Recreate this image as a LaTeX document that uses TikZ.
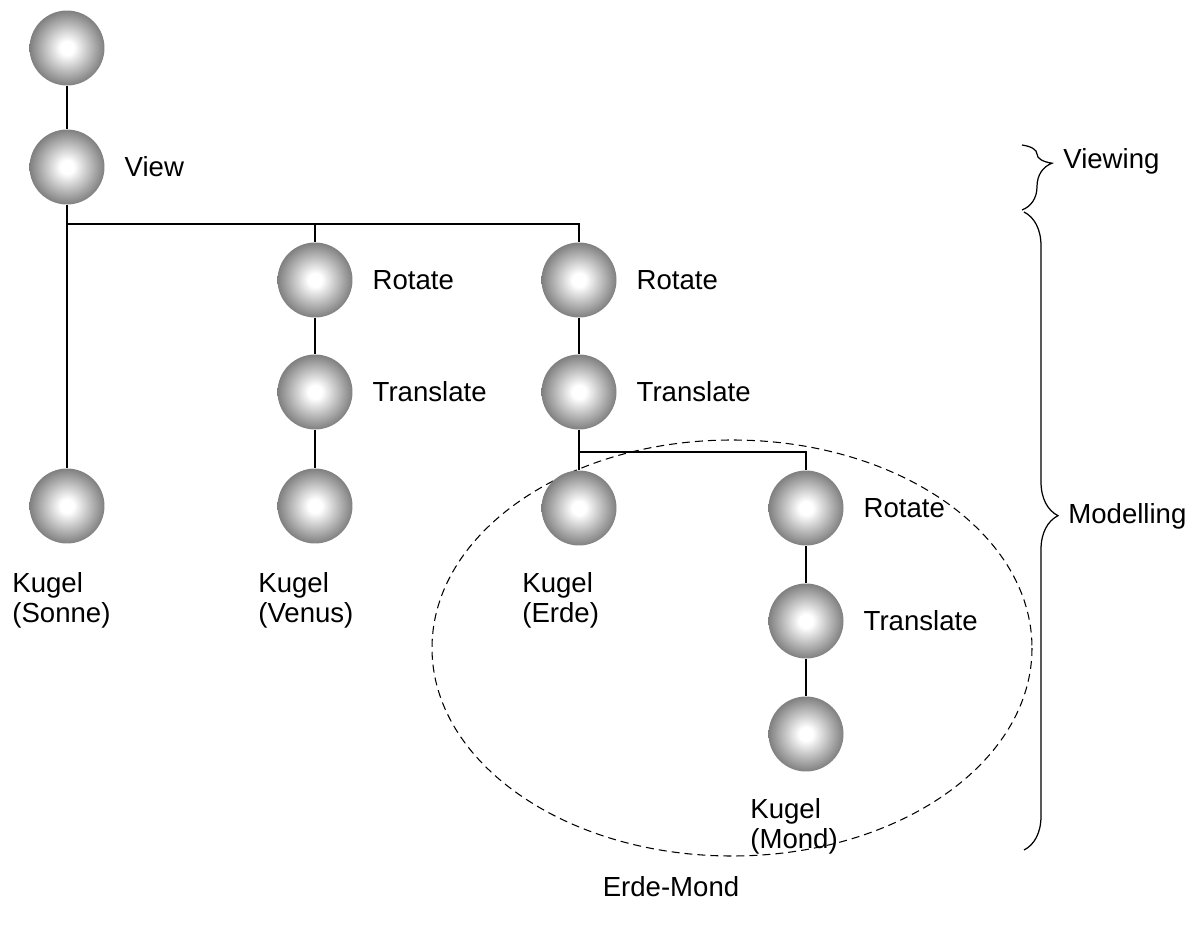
\documentclass[tikz,border=0pt]{standalone}
\usepackage{fontspec}
\setmainfont{Liberation Sans}
\usepackage{tikz}
\usetikzlibrary{positioning, calc, decorations.pathreplacing}
\pgfdeclareradialshading{sphereshade}{\pgfpoint{0bp}{0bp}}{color(0bp)=(white); color(4.5bp)=(white); color(25bp)=(black!50); color(50bp)=(black!50)}

\begin{document}
\begin{tikzpicture}[
    x=0.02cm, y=-0.02cm,
    sphere/.style={circle, minimum size=1.5cm, inner sep=0pt, shading=sphereshade},
    lbl/.style={inner sep=0pt, font=\fontsize{15.7}{17.5}\selectfont},
    kugel/.style={lbl, align=left, anchor=north west},
    edge/.style={line width=0.7pt},
    brc/.style={decorate, line width=0.7pt}
]
\useasboundingbox (0,0) rectangle (1203,925);

% Group
\draw[dashed, line width=0.6pt, dash pattern=on 0.16cm off 0.1cm] (732,648) ellipse [x radius=300, y radius=208];
\node[lbl] (grp) at (671,887) {Erde-Mond};

% Spheres
\node[sphere] (root) at (67,48) {};
\node[sphere] (view) at (67,167) {};
\node[sphere] (sonne) at (67,506) {};
\node[sphere] (rotv) at (315,280) {};
\node[sphere] (trav) at (315,392) {};
\node[sphere] (venus) at (315,506) {};
\node[sphere] (rote) at (579,280) {};
\node[sphere] (trae) at (579,392) {};
\node[sphere] (erde) at (579,508) {};
\node[sphere] (rotm) at (806,508) {};
\node[sphere] (tram) at (806,621) {};
\node[sphere] (mond) at (806,734) {};

% Labels
\node[lbl, right=0.39cm of view] (lview) {View};
\node[lbl, right=0.39cm of rotv] (lrotv) {Rotate};
\node[lbl, right=0.39cm of trav] (ltrav) {Translate};
\node[lbl, right=0.39cm of rote] (lrote) {Rotate};
\node[lbl, right=0.39cm of trae] (ltrae) {Translate};
\node[lbl, right=0.39cm of rotm] (lrotm) {Rotate};
\node[lbl, right=0.39cm of tram] (ltram) {Translate};
\node[kugel] (lsonne) at ($(sonne.south)+(-55,28)$) {Kugel\\(Sonne)};
\node[kugel] (lvenus) at ($(venus.south)+(-57,28)$) {Kugel\\(Venus)};
\node[kugel] (lerde) at ($(erde.south)+(-57,26)$) {Kugel\\(Erde)};
\node[kugel] (lmond) at ($(mond.south)+(-56,26)$) {Kugel\\(Mond)};

% Connections
\coordinate (jv) at (67,224);
\coordinate (je) at (579,452);
\draw[edge] (root) -- (view);
\draw[edge] (view) -- (sonne);
\draw[edge] (jv) -- (jv -| rote) -- (rote);
\draw[edge] (jv -| rotv) -- (rotv);
\draw[edge] (rotv) -- (trav);
\draw[edge] (trav) -- (venus);
\draw[edge] (rote) -- (trae);
\draw[edge] (trae) -- (erde);
\draw[edge] (je) -| (rotm);
\draw[edge] (rotm) -- (tram);
\draw[edge] (tram) -- (mond);

% Braces
\coordinate (vtop) at (1022,145);
\coordinate (vbot) at (1022,210);
\coordinate (mtop) at (1024,212);
\coordinate (mbot) at (1024,850);
\draw[brc, decoration={brace, amplitude=0.6cm, aspect=0.28}] (vtop) -- (vbot);
\draw[brc, decoration={brace, amplitude=0.68cm, aspect=0.476}] (mtop) -- (mbot);
\node[lbl, anchor=west] (lviewing) at (1063,161) {Viewing};
\node[lbl, anchor=west] (lmodel) at (1068,516) {Modelling};
\end{tikzpicture}
\end{document}
